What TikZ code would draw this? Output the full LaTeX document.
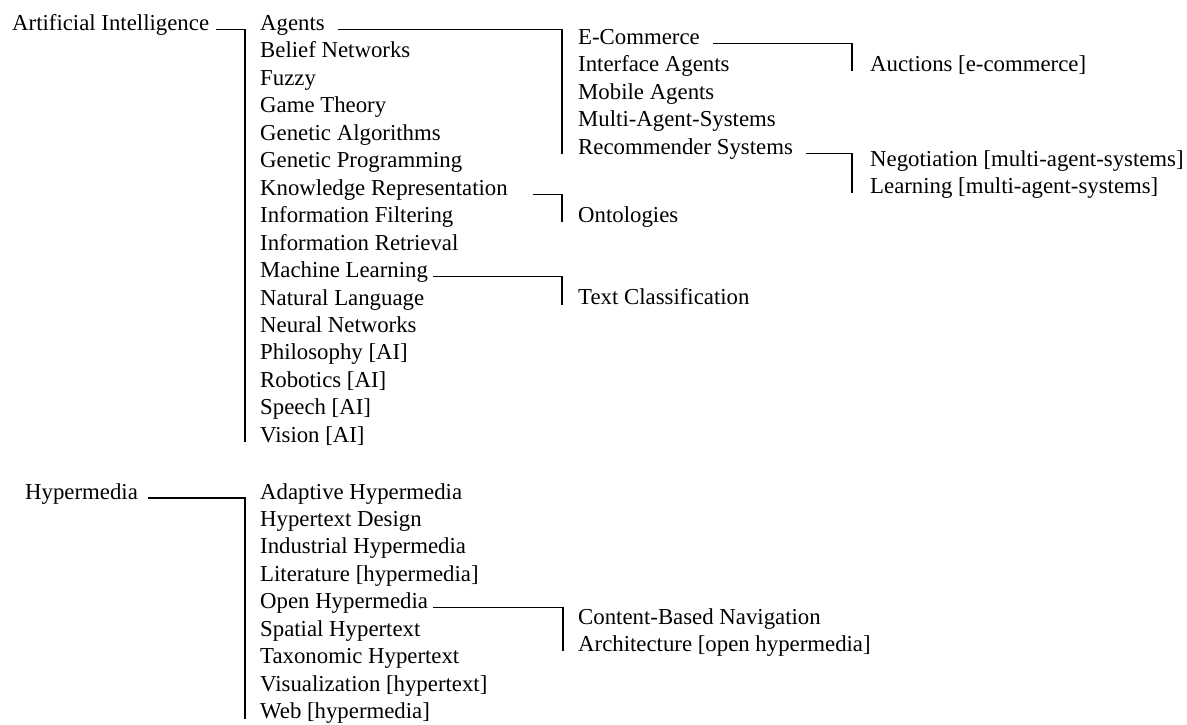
\documentclass[tikz,border=0pt]{standalone}
\usepackage{fontspec}
\setmainfont{Liberation Serif}
\begin{document}
\begin{tikzpicture}[x=1pt,y=-1pt,
  item/.style={anchor=base west, inner sep=0pt, font=\fontsize{22.8}{27}\selectfont},
  link/.style={draw=black, line width=1.1pt}]
\useasboundingbox (0,0) rectangle (1187,725);
\def\ls{27.45}

% bus columns
\coordinate (busA) at (245,0);
\coordinate (busB) at (562,0);
\coordinate (busC) at (852,0);
\coordinate (busD) at (563,0);

% level 1
\node[item] (ai)  at (12,30.5) {Artificial Intelligence};
\node[item] (hyp) at (25,499)  {Hypermedia};

% level 2: artificial intelligence
\node[item] (agents)  at (260,{30.5+0*\ls})  {Agents};
\node[item] (belief)  at (260,{30.5+1*\ls})  {Belief Networks};
\node[item] (fuzzy)   at (260,{30.5+2*\ls})  {Fuzzy};
\node[item] (game)    at (260,{30.5+3*\ls})  {Game Theory};
\node[item] (genalg)  at (260,{30.5+4*\ls})  {Genetic Algorithms};
\node[item] (genprog) at (260,{30.5+5*\ls})  {Genetic Programming};
\node[item] (kr)      at (260,{30.5+6*\ls})  {Knowledge Representation};
\node[item] (infofil) at (260,{30.5+7*\ls})  {Information Filtering};
\node[item] (inforet) at (260,{30.5+8*\ls})  {Information Retrieval};
\node[item] (ml)      at (260,{30.5+9*\ls})  {Machine Learning};
\node[item] (nl)      at (260,{30.5+10*\ls}) {Natural Language};
\node[item] (nn)      at (260,{30.5+11*\ls}) {Neural Networks};
\node[item] (philo)   at (260,{30.5+12*\ls}) {Philosophy [AI]};
\node[item] (robot)   at (260,{30.5+13*\ls}) {Robotics [AI]};
\node[item] (speech)  at (260,{30.5+14*\ls}) {Speech [AI]};
\node[item] (vision)  at (260,{30.5+15*\ls}) {Vision [AI]};

% level 2: hypermedia
\node[item] (adapt)   at (260,{499+0*\ls}) {Adaptive Hypermedia};
\node[item] (htdes)   at (260,{499+1*\ls}) {Hypertext Design};
\node[item] (indus)   at (260,{499+2*\ls}) {Industrial Hypermedia};
\node[item] (lit)     at (260,{499+3*\ls}) {Literature [hypermedia]};
\node[item] (openhyp) at (260,{499+4*\ls}) {Open Hypermedia};
\node[item] (spatial) at (260,{499+5*\ls}) {Spatial Hypertext};
\node[item] (taxo)    at (260,{499+6*\ls}) {Taxonomic Hypertext};
\node[item] (visual)  at (260,{499+7*\ls}) {Visualization [hypertext]};
\node[item] (web)     at (260,{499+8*\ls}) {Web [hypermedia]};

% level 3
\node[item] (ecom)   at (578,{44.5+0*\ls}) {E-Commerce};
\node[item] (iface)  at (578,{44.5+1*\ls}) {Interface Agents};
\node[item] (mobile) at (578,{44.5+2*\ls}) {Mobile Agents};
\node[item] (mas)    at (578,{44.5+3*\ls}) {Multi-Agent-Systems};
\node[item] (recsys) at (578,{44.5+4*\ls}) {Recommender Systems};
\node[item] (onto)   at (578,222)   {Ontologies};
\node[item] (textcl) at (578,304.5) {Text Classification};
\node[item] (cbn)    at (578,624)   {Content-Based Navigation};
\node[item] (arch)   at (578,{624+\ls}) {Architecture [open hypermedia]};

% level 4
\node[item] (auct) at (870,71.5) {Auctions [e-commerce]};
\node[item] (nego) at (870,166)  {Negotiation [multi-agent-systems]};
\node[item] (lrn)  at (870,{166+\ls}) {Learning [multi-agent-systems]};

% connectors
\draw[link] ([xshift=7pt,yshift=1pt]ai.base east)      -| (busA |- vision.base);
\draw[link] ([xshift=10pt,yshift=1pt]hyp.base east)    -| (busA |- web.base);
\draw[link] ([xshift=13pt,yshift=1pt]agents.base east) -| (busB |- recsys.base);
\draw[link] ([xshift=25pt,yshift=1pt]kr.base east)     -| (busB |- onto.base);
\draw[link] ([xshift=5pt,yshift=1pt]ml.base east)      -| (busB |- textcl.base);
\draw[link] ([xshift=5pt,yshift=1pt]openhyp.base east) -| (busD |- arch.base);
\draw[link] ([xshift=13pt,yshift=1pt]ecom.base east)   -| (busC |- auct.base);
\draw[link] ([xshift=13pt,yshift=1pt]recsys.base east) -| (busC |- lrn.base);
\end{tikzpicture}
\end{document}
